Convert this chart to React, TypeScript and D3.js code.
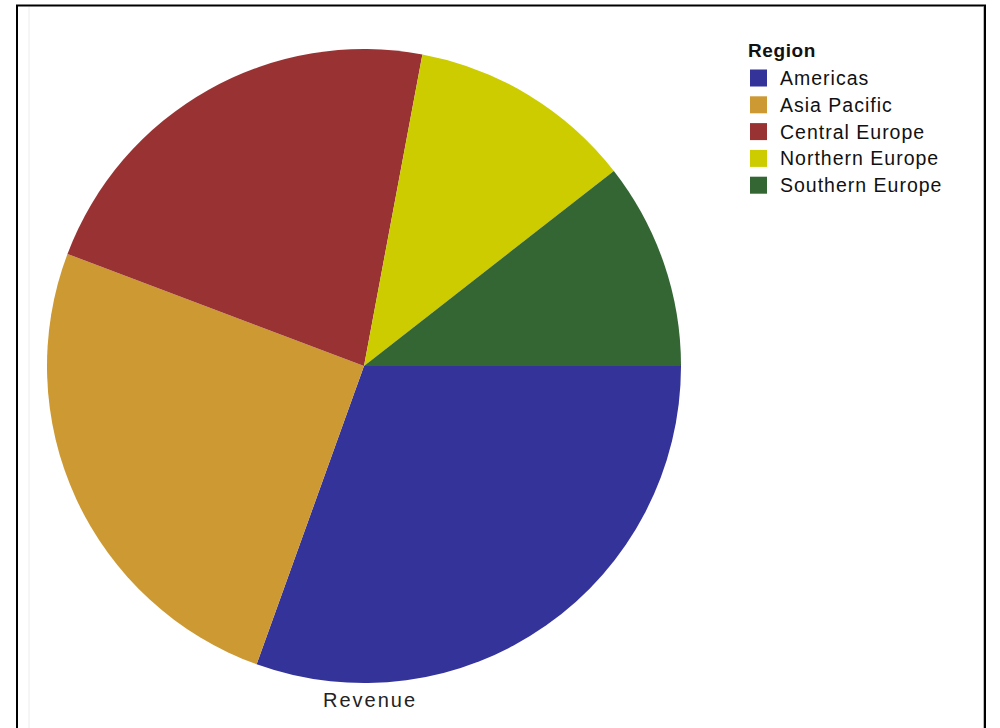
import React from "react";
import * as d3 from "d3";

const regions = ["Americas", "Asia Pacific", "Central Europe", "Northern Europe", "Southern Europe"];
const revenue = [30.5, 25.25, 22.2, 11.5, 10.55];
const colors = ["#333399", "#cc9933", "#993333", "#cccc00", "#336633"];
const legendTitle = "Region";
const axisLabel = "Revenue";

export default function App() {
  const width = 1000;
  const height = 728;
  const cx = 364;
  const cy = 366;
  const r = 317;
  const pie = d3
    .pie<number>()
    .sort(null)
    .startAngle(Math.PI / 2)
    .endAngle(Math.PI / 2 + 2 * Math.PI)(revenue);
  const arc = d3.arc<d3.PieArcDatum<number>>().innerRadius(0).outerRadius(r);
  const color = d3.scaleOrdinal<string, string>().domain(regions).range(colors);
  const legendY = d3.scaleBand<string>().domain(regions).range([69, 69 + 26.8 * regions.length]);

  return (
    <div style={{ position: "absolute", left: 0, top: 0 }}>
      <svg width={width} height={height} style={{ display: "block", fontFamily: "'Liberation Sans', Arial, sans-serif" }}>
        <rect x={0} y={0} width={width} height={height} fill="#fff" />
        <line x1={29} y1={7} x2={29} y2={728} stroke="#ececec" strokeWidth={1} />
        <rect x={17} y={5.5} width={968} height={740} fill="none" stroke="#000" strokeWidth={2} />
        <line x1={983.5} y1={7} x2={983.5} y2={728} stroke="#bbb" strokeWidth={1} />
        <g transform={`translate(${cx},${cy})`}>
          {pie.map((d, i) => (
            <path key={regions[i]} d={arc(d) || ""} fill={color(regions[i])} />
          ))}
        </g>
        <text x={370} y={707} textAnchor="middle" fontSize={20} letterSpacing={2} fill="#222">
          {axisLabel}
        </text>
        <text x={748} y={57} fontSize={19} fontWeight="bold" letterSpacing={0.6} fill="#111">
          {legendTitle}
        </text>
        {regions.map((name) => (
          <g key={name} transform={`translate(0,${legendY(name)})`}>
            <rect x={750} y={0.5} width={17} height={17} fill={color(name)} />
            <text x={780} y={16} fontSize={19.5} letterSpacing={1} fill="#111">
              {name}
            </text>
          </g>
        ))}
      </svg>
    </div>
  );
}
